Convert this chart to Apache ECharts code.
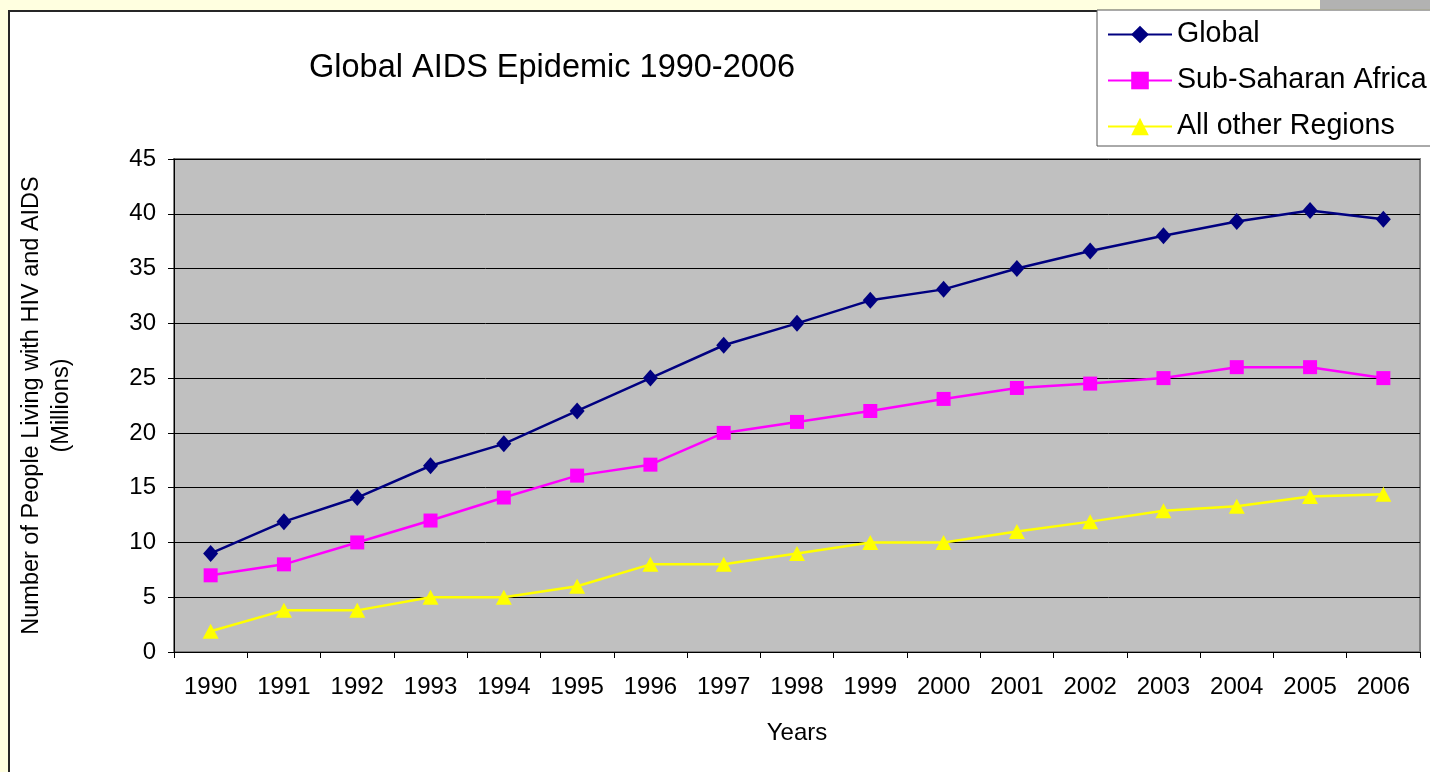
<!DOCTYPE html>
<html>
<head>
<meta charset="utf-8">
<title>Global AIDS Epidemic 1990-2006</title>
<script src="https://cdn.jsdelivr.net/npm/echarts@6/dist/echarts.min.js"></script>
<style>
  html, body { margin: 0; padding: 0; background: #FFFFE0; }
  #chart { width: 1430px; height: 772px; }
</style>
</head>
<body>
<div id="chart"></div>
<script>
// Years on the category axis
const years = ['1990','1991','1992','1993','1994','1995','1996','1997','1998',
               '1999','2000','2001','2002','2003','2004','2005','2006'];

// People living with HIV and AIDS, millions
const globalTotal = [9, 11.9, 14.1, 17, 19, 22, 25, 28, 30, 32.1, 33.1, 35, 36.6, 38, 39.3, 40.3, 39.5];
const subSaharan  = [7, 8, 10, 12, 14.1, 16.1, 17.1, 20, 21, 22, 23.1, 24.1, 24.5, 25, 26, 26, 25];
const otherRegions = [1.9, 3.8, 3.8, 5, 5, 6, 8, 8, 9, 10, 10, 11, 11.9, 12.9, 13.3, 14.2, 14.4];

const seriesNames = ['Global', 'Sub-Saharan Africa', 'All other Regions'];

const FONT = '"Liberation Sans", Arial, sans-serif';

const chart = echarts.init(document.getElementById('chart'), null, { renderer: 'canvas' });

chart.setOption({
  backgroundColor: '#FFFFE0',
  animation: false,
  textStyle: { fontFamily: FONT, color: '#000' },
  graphic: {
    elements: [
      // white sheet behind the chart
      { type: 'rect', z: -100, silent: true,
        shape: { x: 9, y: 11, width: 1500, height: 800 },
        style: { fill: '#FFFFFF', stroke: '#262626', lineWidth: 2 } },
      // grey tab at the top right
      { type: 'rect', z: -99, silent: true,
        shape: { x: 1320, y: 0, width: 110, height: 9 },
        style: { fill: '#B2B2B2' } }
    ]
  },
  title: {
    text: 'Global AIDS Epidemic 1990-2006',
    left: 547,
    textAlign: 'center',
    top: 47,
    textStyle: { fontFamily: FONT, fontSize: 32.5, fontWeight: 'normal', color: '#000' }
  },
  legend: {
    data: seriesNames,
    orient: 'vertical',
    left: 1097,
    top: 10,
    padding: [10, 20, 5, 10],
    itemGap: 17,
    itemWidth: 64,
    itemHeight: 22,
    selectedMode: false,
    backgroundColor: '#FFFFFF',
    borderColor: '#555555',
    borderWidth: 1,
    borderRadius: 0,
    textStyle: { fontFamily: FONT, fontSize: 28.6, color: '#000' }
  },
  grid: {
    left: 174,
    top: 159,
    width: 1246,
    height: 493,
    show: true,
    backgroundColor: '#C0C0C0',
    borderColor: '#808080',
    borderWidth: 2,
    containLabel: false,
    outerBoundsMode: 'none'
  },
  xAxis: {
    type: 'category',
    data: years,
    boundaryGap: true,
    name: 'Years',
    nameLocation: 'middle',
    nameGap: 69,
    nameTextStyle: { fontFamily: FONT, fontSize: 24, color: '#000' },
    axisLine: { lineStyle: { color: '#000', width: 1 } },
    axisTick: { show: true, length: 6, alignWithLabel: false, lineStyle: { color: '#000' } },
    axisLabel: { fontFamily: FONT, fontSize: 24, color: '#000', margin: 23, interval: 0 },
    splitLine: { show: false }
  },
  yAxis: {
    type: 'value',
    min: 0,
    max: 45,
    interval: 5,
    name: 'Number of People Living with HIV and AIDS\n(Millions)',
    nameLocation: 'middle',
    nameGap: 97,
    nameRotate: 90,
    nameTextStyle: { fontFamily: FONT, fontSize: 23.5, color: '#000', lineHeight: 30, align: 'center' },
    axisLine: { show: true, lineStyle: { color: '#000', width: 1 } },
    axisTick: { show: true, length: 6, lineStyle: { color: '#000' } },
    axisLabel: { fontFamily: FONT, fontSize: 24, color: '#000', margin: 18 },
    splitLine: { show: true, lineStyle: { color: '#000', width: 1 } }
  },
  series: [
    {
      name: seriesNames[0],
      type: 'line',
      data: globalTotal,
      symbol: 'diamond',
      symbolSize: [15, 17],
      showAllSymbol: true,
      lineStyle: { color: '#000080', width: 2.5 },
      itemStyle: { color: '#000080' },
      z: 4
    },
    {
      name: seriesNames[1],
      type: 'line',
      data: subSaharan,
      symbol: 'rect',
      symbolSize: 14,
      showAllSymbol: true,
      lineStyle: { color: '#FF00FF', width: 2.5 },
      itemStyle: { color: '#FF00FF' },
      z: 3
    },
    {
      name: seriesNames[2],
      type: 'line',
      data: otherRegions,
      symbol: 'triangle',
      symbolSize: [16, 15],
      showAllSymbol: true,
      lineStyle: { color: '#FFFF00', width: 2.5 },
      itemStyle: { color: '#FFFF00' },
      z: 2
    }
  ]
});
</script>
</body>
</html>
